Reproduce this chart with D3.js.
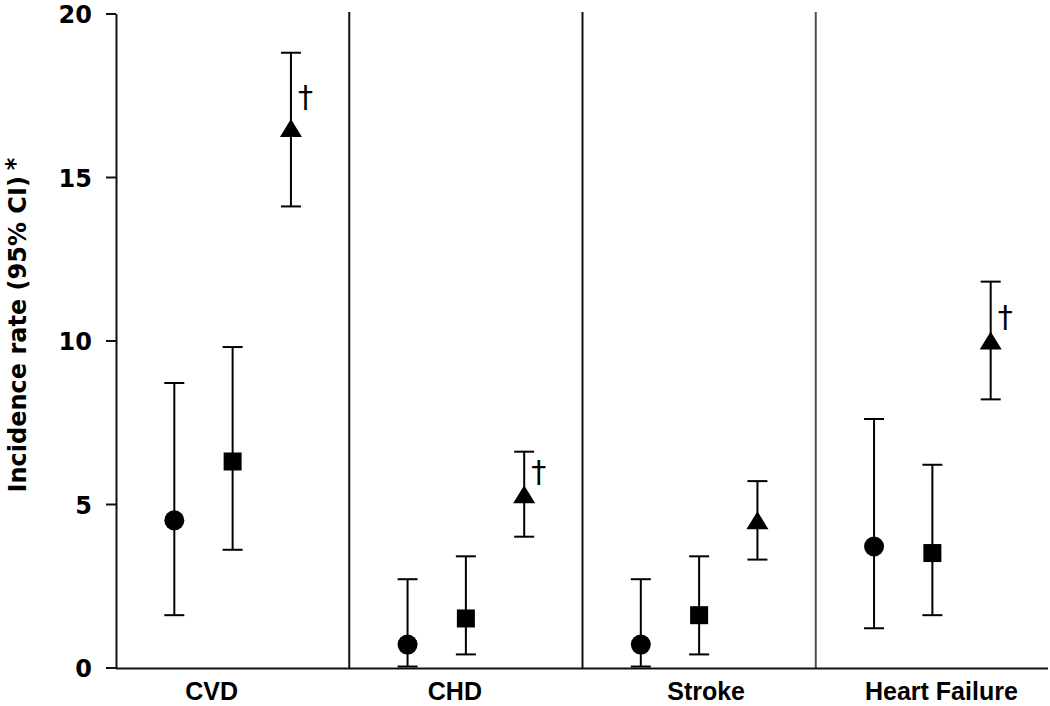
<!DOCTYPE html>
<html>
<head>
<meta charset="utf-8">
<script src="https://cdn.jsdelivr.net/npm/d3@7/dist/d3.min.js"></script>
<style>
  html, body { margin: 0; padding: 0; background: #fff; }
  svg { display: block; }
</style>
</head>
<body>
<svg id="chart" width="1050" height="706"></svg>
<script>
// ---- data ----
const categories = ["CVD", "CHD", "Stroke", "Heart Failure"];
const yTicks = [0, 5, 10, 15, 20];

const circleEst = [4.5, 0.7, 0.7, 3.7];
const circleLo  = [1.6, 0.03, 0.03, 1.2];
const circleHi  = [8.7, 2.7, 2.7, 7.6];

const squareEst = [6.3, 1.5, 1.6, 3.5];
const squareLo  = [3.6, 0.4, 0.4, 1.6];
const squareHi  = [9.8, 3.4, 3.4, 6.2];

const triangleEst = [16.5, 5.3, 4.5, 10.0];
const triangleLo  = [14.1, 4.0, 3.3, 8.2];
const triangleHi  = [18.8, 6.6, 5.7, 11.8];

// dagger annotations (significance) with their vertical position in data units
const daggerShown = [true, true, false, true];
const daggerY     = [17.45, 6.0, 0, 10.73];

const yTitle = "Incidence rate (95% CI)";
const yTitleSup = "*";

// ---- layout ----
const svg = d3.select("#chart");
const mLeft = 116, mRight = 1049, mTop = 13.5, mBottom = 667.5;
const labelShift = [-21, -11, 7, 9];
const seriesPos = [0.25, 0.5, 0.75];

const x = d3.scaleBand().domain(categories).range([mLeft, mRight]).padding(0);
const y = d3.scaleLinear().domain([0, 20]).range([mBottom, mTop]);

const series = [
  {shape: "circle", est: circleEst, lo: circleLo, hi: circleHi},
  {shape: "square", est: squareEst, lo: squareLo, hi: squareHi},
  {shape: "triangle", est: triangleEst, lo: triangleLo, hi: triangleHi}
];

// separators
const seps = categories.slice(1).map((c, i) => ({x: x(c), color: i === 2 ? "#4d4d4d" : "#111"}));
svg.selectAll("line.sep").data(seps).join("line")
  .attr("class", "sep")
  .attr("x1", d => d.x).attr("x2", d => d.x)
  .attr("y1", y(20) - 1.5).attr("y2", mBottom + 1)
  .attr("stroke", d => d.color).attr("stroke-width", 2);

// x axis line
svg.append("line")
  .attr("x1", mLeft).attr("x2", 1048)
  .attr("y1", mBottom + 1).attr("y2", mBottom + 1)
  .attr("stroke", "#111").attr("stroke-width", 2);

// y axis
const yAxis = d3.axisLeft(y).tickValues(yTicks).tickSize(10).tickSizeOuter(0).tickPadding(14).tickFormat(d3.format("d"));
const gy = svg.append("g").attr("transform", `translate(${mLeft},0)`).call(yAxis);
gy.select(".domain").attr("stroke", "#111").attr("stroke-width", 2);
gy.selectAll(".tick line").attr("stroke", "#111").attr("stroke-width", 2);
gy.selectAll(".tick text")
  .attr("fill", "#000")
  .attr("dy", "0.38em")
  .style("font-family", "'DejaVu Sans', sans-serif")
  .style("font-weight", "bold")
  .style("font-size", "24px");

// category labels
svg.selectAll("text.cat").data(categories).join("text")
  .attr("class", "cat")
  .attr("x", (d, i) => x(d) + x.bandwidth() / 2 + labelShift[i])
  .attr("y", 700)
  .attr("text-anchor", "middle")
  .attr("fill", "#000")
  .style("font-family", "'Liberation Sans', Arial, sans-serif")
  .style("font-weight", "bold")
  .style("font-size", "25px")
  .text(d => d);

// y title
const yt = svg.append("text")
  .attr("transform", "translate(25.5,325) rotate(-90)")
  .attr("text-anchor", "middle")
  .attr("fill", "#000")
  .style("font-family", "'DejaVu Sans', sans-serif")
  .style("font-weight", "bold")
  .style("font-size", "24px");
yt.append("tspan").text(yTitle);
yt.append("tspan").attr("dx", 6).attr("dy", -2.5).text(yTitleSup);

// error bars and markers
const capHalf = 10;
series.forEach((s, si) => {
  const pts = categories.map((c, i) => ({
    cx: x(c) + x.bandwidth() * seriesPos[si],
    est: s.est[i], lo: s.lo[i], hi: s.hi[i]
  }));
  const g = svg.append("g");
  g.selectAll("line.v").data(pts).join("line")
    .attr("class", "v")
    .attr("x1", d => d.cx).attr("x2", d => d.cx)
    .attr("y1", d => y(d.lo)).attr("y2", d => y(d.hi))
    .attr("stroke", "#000").attr("stroke-width", 2);
  g.selectAll("line.lo").data(pts).join("line")
    .attr("class", "lo")
    .attr("x1", d => d.cx - capHalf).attr("x2", d => d.cx + capHalf)
    .attr("y1", d => y(d.lo)).attr("y2", d => y(d.lo))
    .attr("stroke", "#000").attr("stroke-width", 2);
  g.selectAll("line.hi").data(pts).join("line")
    .attr("class", "hi")
    .attr("x1", d => d.cx - capHalf).attr("x2", d => d.cx + capHalf)
    .attr("y1", d => y(d.hi)).attr("y2", d => y(d.hi))
    .attr("stroke", "#000").attr("stroke-width", 2);

  if (s.shape === "circle") {
    g.selectAll("circle").data(pts).join("circle")
      .attr("cx", d => d.cx).attr("cy", d => y(d.est)).attr("r", 10)
      .attr("fill", "#000");
  } else if (s.shape === "square") {
    g.selectAll("rect").data(pts).join("rect")
      .attr("x", d => d.cx - 9).attr("y", d => y(d.est) - 9)
      .attr("width", 18).attr("height", 18)
      .attr("fill", "#000");
  } else {
    g.selectAll("path").data(pts).join("path")
      .attr("d", d => {
        const cy = y(d.est);
        return `M${d.cx},${cy - 9}L${d.cx + 11},${cy + 9}L${d.cx - 11},${cy + 9}Z`;
      })
      .attr("fill", "#000");
  }
});

// daggers (next to triangles)
const daggers = categories.map((c, i) => ({
  show: daggerShown[i],
  x: x(c) + x.bandwidth() * seriesPos[2] + 7,
  yv: daggerY[i]
})).filter(d => d.show);
svg.selectAll("text.dagger").data(daggers).join("text")
  .attr("class", "dagger")
  .attr("x", d => d.x)
  .attr("y", d => y(d.yv))
  .attr("dominant-baseline", "central")
  .attr("fill", "#000")
  .style("font-family", "'DejaVu Sans', sans-serif")
  .style("font-size", "30px")
  .text("†");
</script>
</body>
</html>
